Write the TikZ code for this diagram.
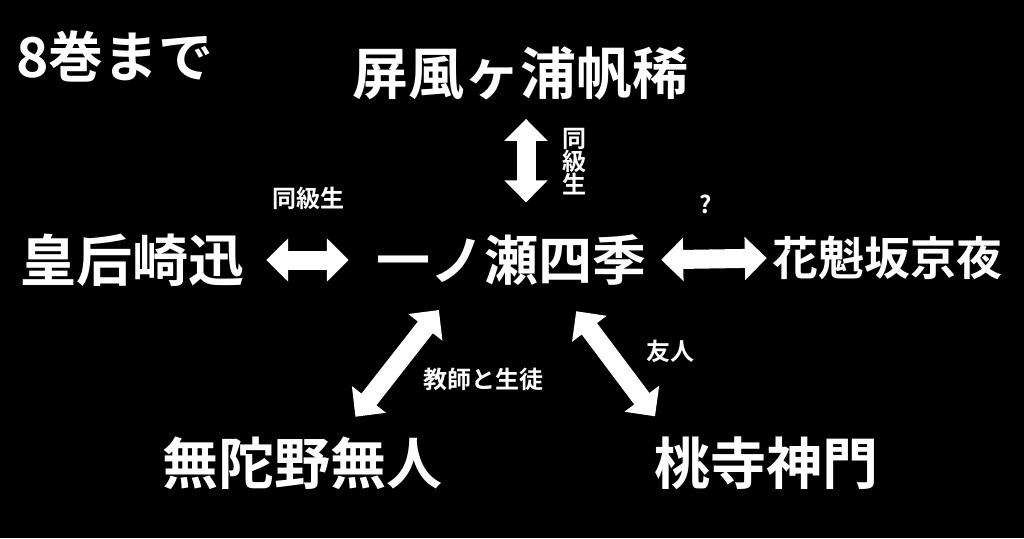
\documentclass[tikz,border=0pt]{standalone}
\usepackage{fontspec}
\setmainfont{Noto Sans CJK JP}[BoldFont={* Bold}]
\usetikzlibrary{arrows.meta,positioning}

\begin{document}
\begin{tikzpicture}[
    x=1pt, y=-1pt,
    person/.style={text=white, inner sep=0pt, font=\bfseries\fontsize{56}{60}\selectfont},
    lbl/.style={text=white, inner sep=0pt, font=\bfseries\fontsize{24}{23}\selectfont},
    biarrow/.style={{Triangle[width=42pt,length=22pt]}-{Triangle[width=42pt,length=22pt]}, line width=19pt, white}
]
    \fill[black] (0,0) rectangle (1024,538);
    \useasboundingbox (0,0) rectangle (1024,538);

    \node[person, font=\bfseries\fontsize{55}{58}\selectfont] (vol) at (115,56) {8巻まで};
    \node[person, font=\bfseries\fontsize{54}{58}\selectfont] (sik) at (511,260) {一ノ瀬四季};
    \node[person] (byb) at (520,73) {屏風ヶ浦帆稀};
    \node[person] (kzk) at (132,260) {皇后崎迅};
    \node[person, font=\bfseries\fontsize{46}{50}\selectfont] (kyy) at (887,258) {花魁坂京夜};
    \node[person] (mdn) at (302,463) {無陀野無人};
    \node[person] (jmk) at (766,463) {桃寺神門};

    \draw[biarrow, shorten <=19pt, shorten >=32pt] ([xshift=6pt]byb.south) -- node[lbl, right=27pt, yshift=6pt, align=center] {同\\級\\生} ([xshift=15pt]sik.north);
    \draw[biarrow, shorten <=22pt, shorten >=27pt] (kzk.east) -- node[lbl, above=41pt, xshift=-2pt] {同級生} (sik.west);
    \draw[biarrow, shorten <=15pt, shorten >=5pt] (sik.east) -- node[lbl, above=36pt, xshift=-3pt] {?} (kyy.west);
    \draw[biarrow, shorten <=31pt, shorten >=25pt] ([xshift=-53pt]sik.south) -- node[lbl, right=15pt, yshift=-18pt] {教師と生徒} ([xshift=38pt]mdn.north);
    \draw[biarrow, shorten <=32pt, shorten >=25pt] ([xshift=46pt]sik.south) -- node[lbl, right=23pt, yshift=10pt] {友人} ([xshift=-96pt]jmk.north);
\end{tikzpicture}
\end{document}
